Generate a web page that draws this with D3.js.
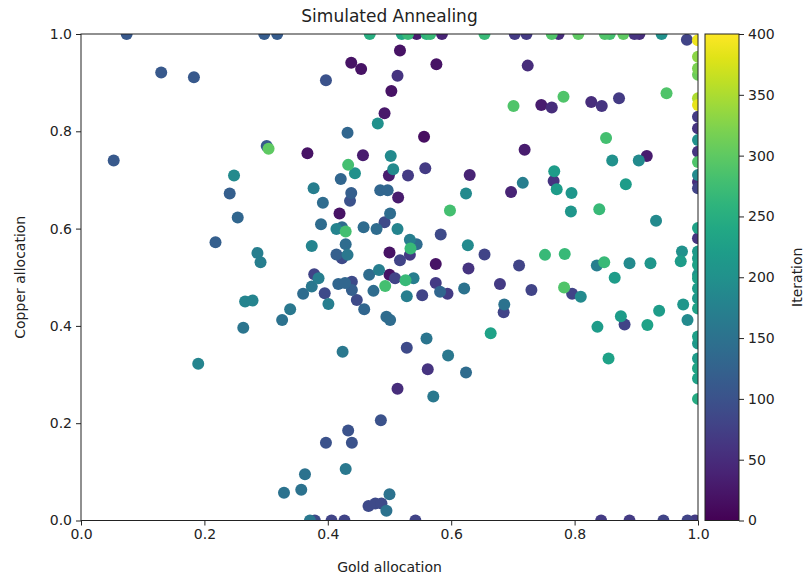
<!doctype html>
<html>
<head>
<meta charset="UTF-8">
<script src="https://d3js.org/d3.v7.min.js"></script>
<style>
  body { margin: 0; background: #fff; }
  text { font-family: "DejaVu Sans", sans-serif; fill: #222; }
</style>
</head>
<body>
<script>
// values: gold allocation, copper allocation, iteration
var goldAlloc = [
  0.074,0.130,0.183,0.297,0.318,0.301,0.304,0.053,0.248,0.241,0.254,0.218,0.286,0.291,
  0.266,0.278,0.339,0.326,0.263,0.190,0.329,
  0.401,0.395,0.459,0.474,0.493,0.495,0.501,0.526,0.528,0.553,0.575,0.582,0.594,0.621,0.679,0.686,0.685,0.664,
  0.424,0.528,0.560,0.595,0.562,0.624,0.513,0.571,0.486,0.433,0.397,0.439,0.429,0.363,0.357,
  0.466,0.477,0.487,0.500,0.495,0.371,0.379,0.406,0.427,0.542,
  0.843,0.889,0.944,0.983,0.995,0.730,0.783,0.796,0.810,0.865,0.837,0.875,0.881,0.855,0.918,0.937,0.976,0.983,
  1,1,1,1,1,1,1,1,1,1,1,0.974,1,1,1,1,1,
  1,1,1,1,1,1,1,1,1,1,1,1,1,1,0.982,0.949,
  0.468,0.520,0.530,0.544,0.560,0.566,0.585,0.654,0.703,0.722,0.763,0.774,0.806,0.849,0.857,0.879,0.897,0.905,0.941,0.517,
  0.724,0.701,0.746,0.763,0.782,0.827,0.844,0.872,0.851,0.719,0.861,0.904,0.917,0.767,0.716,0.766,0.771,0.795,0.697,0.883,
  0.794,0.840,0.932,0.752,0.784,0.710,0.836,0.848,0.889,0.923,0.972,
  0.438,0.454,0.576,0.513,0.397,0.503,0.492,0.481,0.432,0.556,0.367,0.457,0.502,0.433,0.444,0.506,0.499,0.530,0.558,0.630,
  0.421,0.377,0.438,0.436,0.485,0.497,0.514,0.624,0.392,0.419,0.501,0.598,0.492,0.389,0.414,0.423,0.429,0.458,0.479,0.513,
  0.583,0.374,0.429,0.414,0.432,0.533,0.544,0.534,0.500,0.517,0.533,0.627,0.654,0.575,0.628,0.378,0.385,0.467,0.483,0.500,
  0.423,0.374,0.360,0.417,0.428,0.439,0.439,0.447,0.509,0.539
];
var copperAlloc = [
  1.0,0.921,0.911,1.0,1.0,0.770,0.764,0.740,0.709,0.672,0.623,0.572,0.550,0.531,
  0.450,0.452,0.434,0.412,0.396,0.322,0.057,
  0.445,0.467,0.434,0.472,0.482,0.419,0.412,0.494,0.461,0.463,0.488,0.470,0.466,0.477,0.486,0.444,0.428,0.385,
  0.347,0.355,0.374,0.339,0.311,0.304,0.271,0.255,0.206,0.185,0.160,0.160,0.106,0.095,0.063,
  0.030,0.035,0.035,0.054,0.020,0,0,0,0,0,
  0,0,0,0,0,0.474,0.479,0.466,0.460,0.499,0.398,0.420,0.403,0.333,0.402,0.431,0.444,0.412,
  0.498,0.477,0.457,0.436,0.378,0.364,0.313,0.292,0.250,0.601,0.580,0.553,0.553,0.539,0.525,0.505,0.333,
  0.987,0.953,0.929,0.916,0.868,0.854,0.830,0.806,0.782,0.758,0.737,0.710,0.696,0.683,0.988,0.878,
  1,1,1,1,1,1,1,1,1,1,1,1,1,1,1,1,1,1,1,0.966,
  0.935,0.852,0.854,0.849,0.871,0.860,0.852,0.868,0.786,0.762,0.740,0.740,0.749,0.718,0.694,0.698,0.681,0.673,0.675,0.691,
  0.635,0.640,0.616,0.546,0.548,0.524,0.524,0.531,0.529,0.529,0.533,
  0.941,0.928,0.938,0.914,0.905,0.883,0.837,0.816,0.797,0.789,0.755,0.751,0.749,0.731,0.714,0.722,0.709,0.709,0.724,0.710,
  0.702,0.683,0.673,0.657,0.679,0.679,0.664,0.672,0.653,0.631,0.631,0.637,0.613,0.609,0.599,0.603,0.594,0.603,0.599,0.599,
  0.588,0.564,0.568,0.547,0.546,0.577,0.568,0.559,0.551,0.535,0.546,0.566,0.547,0.527,0.518,0.506,0.498,0.505,0.515,0.505,
  0.539,0.481,0.466,0.486,0.488,0.491,0.474,0.453,0.498,0.498
];
var iteration = [
  110,110,110,115,115,110,300,110,190,120,130,120,170,170,
  180,180,160,150,155,180,150,
  170,90,130,140,280,140,140,270,170,80,70,130,70,150,70,150,80,230,
  160,90,155,160,60,140,50,160,100,100,100,100,160,150,150,
  90,90,90,150,150,160,90,80,80,80,
  70,70,80,80,70,80,290,80,190,220,220,220,80,230,230,220,210,190,
  225,220,215,230,225,215,235,230,245,230,60,200,215,220,230,205,220,
  390,330,320,310,350,385,70,60,200,60,290,190,50,80,80,290,
  250,240,270,30,260,270,40,270,70,70,290,50,300,290,280,300,60,50,200,20,
  50,290,30,50,290,50,60,70,280,30,200,190,30,220,170,60,220,210,40,220,
  210,270,190,270,270,80,170,270,190,210,220,
  20,20,20,60,100,20,25,200,130,15,20,30,190,280,200,190,30,70,70,40,
  130,170,120,100,130,130,30,190,140,20,140,280,90,140,180,140,280,140,140,180,
  90,180,140,120,160,170,140,270,20,80,70,190,80,20,60,80,170,140,170,20,
  90,160,140,130,130,90,120,90,80,170
];
var xTicks = [0, 0.2, 0.4, 0.6, 0.8, 1.0];
var yTicks = [0, 0.2, 0.4, 0.6, 0.8, 1.0];
var cbTicks = [0, 50, 100, 150, 200, 250, 300, 350, 400];

var width = 805, height = 579;
var plotL = 81, plotR = 698, plotT = 34, plotB = 520.5;
var cbL = 705, cbR = 739;

var svg = d3.select('body').append('svg')
  .attr('width', width)
  .attr('height', height);

var x = d3.scaleLinear().domain([0, 1]).range([plotL, plotR]);
var y = d3.scaleLinear().domain([0, 1]).range([plotB, plotT]);
var color = d3.scaleSequential(d3.interpolateViridis).domain([0, 400]);

svg.append('clipPath').attr('id', 'plotclip')
  .append('rect')
  .attr('x', plotL).attr('y', plotT)
  .attr('width', plotR - plotL).attr('height', plotB - plotT);

var pts = goldAlloc.map(function(g, i) {
  return { g: g, c: copperAlloc[i], it: iteration[i] };
});
pts.sort(function(a, b) { return a.it - b.it; });

svg.append('g').attr('clip-path', 'url(#plotclip)')
  .selectAll('circle')
  .data(pts)
  .enter()
  .append('circle')
  .attr('cx', d => x(d.g))
  .attr('cy', d => y(d.c))
  .attr('r', 6)
  .attr('fill', d => color(d.it));

// axes
var xAxis = d3.axisBottom(x).tickValues(xTicks).tickFormat(d3.format('.1f')).tickSize(5).tickPadding(4);
var yAxis = d3.axisLeft(y).tickValues(yTicks).tickFormat(d3.format('.1f')).tickSize(5).tickPadding(4);

var gx = svg.append('g').attr('transform', 'translate(0,' + plotB + ')').call(xAxis);
var gy = svg.append('g').attr('transform', 'translate(' + plotL + ',0)').call(yAxis);
[gx, gy].forEach(function(g) {
  g.select('.domain').remove();
  g.selectAll('text').style('font-size', '14px').style('font-family', '"DejaVu Sans", sans-serif').attr('fill', '#222');
  g.selectAll('line').attr('stroke', '#222');
});

svg.append('rect')
  .attr('x', plotL).attr('y', plotT)
  .attr('width', plotR - plotL).attr('height', plotB - plotT)
  .attr('fill', 'none').attr('stroke', '#222').attr('stroke-width', 1);

// colorbar
var defs = svg.append('defs');
var grad = defs.append('linearGradient').attr('id', 'cbgrad')
  .attr('x1', '0%').attr('y1', '100%').attr('x2', '0%').attr('y2', '0%');
grad.selectAll('stop')
  .data(d3.range(0, 1.0001, 0.05))
  .enter().append('stop')
  .attr('offset', d => (d * 100) + '%')
  .attr('stop-color', d => d3.interpolateViridis(d));

svg.append('rect')
  .attr('x', cbL).attr('y', plotT)
  .attr('width', cbR - cbL).attr('height', plotB - plotT)
  .attr('fill', 'url(#cbgrad)')
  .attr('stroke', '#222').attr('stroke-width', 1);

var cbScale = d3.scaleLinear().domain([0, 400]).range([plotB, plotT]);
var gc = svg.append('g').attr('transform', 'translate(' + cbR + ',0)')
  .call(d3.axisRight(cbScale).tickValues(cbTicks).tickSize(5).tickPadding(4));
gc.select('.domain').remove();
gc.selectAll('text').style('font-size', '14px').style('font-family', '"DejaVu Sans", sans-serif').attr('fill', '#222');
gc.selectAll('line').attr('stroke', '#222');

// labels
svg.append('text')
  .text('Simulated Annealing')
  .attr('x', (plotL + plotR) / 2).attr('y', 22)
  .attr('text-anchor', 'middle')
  .style('font-size', '17px');

svg.append('text')
  .text('Gold allocation')
  .attr('x', (plotL + plotR) / 2).attr('y', 572)
  .attr('text-anchor', 'middle')
  .style('font-size', '14px');

svg.append('text')
  .text('Copper allocation')
  .attr('transform', 'translate(25,' + ((plotT + plotB) / 2) + ')rotate(-90)')
  .attr('text-anchor', 'middle')
  .style('font-size', '14px');

svg.append('text')
  .text('Iteration')
  .attr('transform', 'translate(802,' + ((plotT + plotB) / 2) + ')rotate(-90)')
  .attr('text-anchor', 'middle')
  .style('font-size', '14px');
</script>
</body>
</html>
